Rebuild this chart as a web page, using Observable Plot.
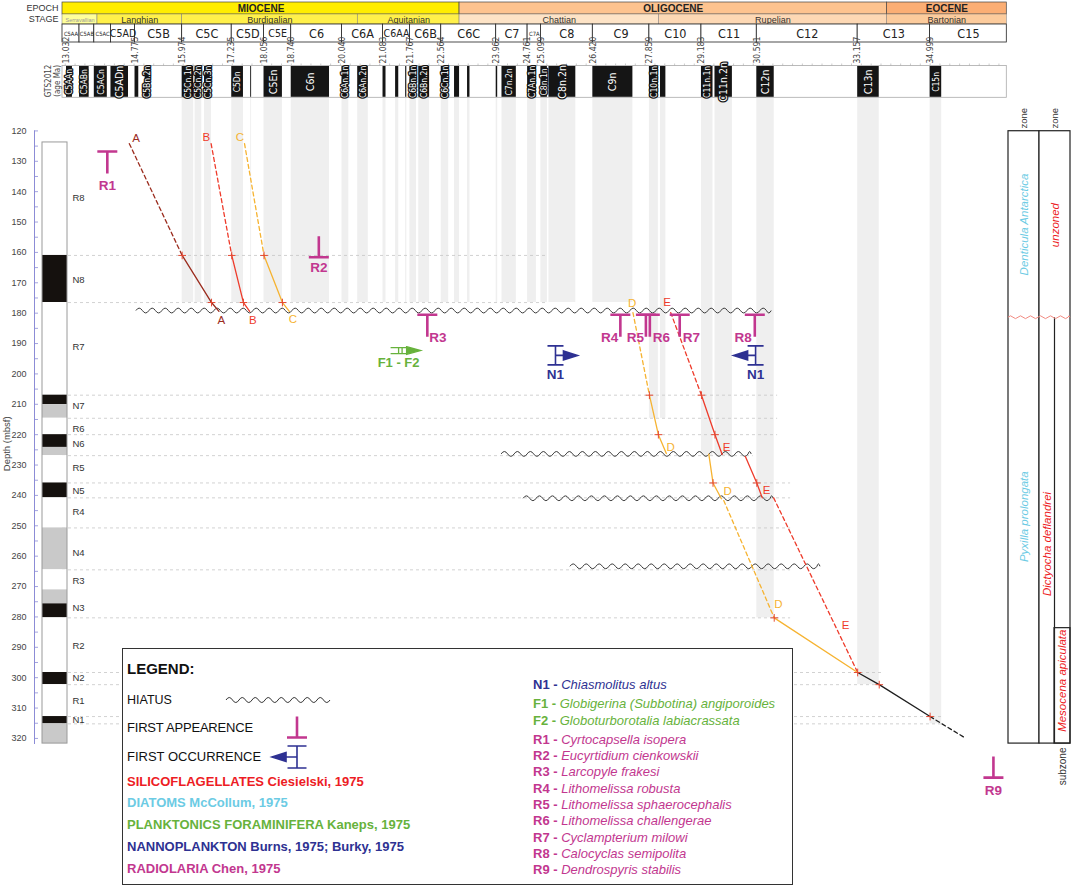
<!DOCTYPE html>
<html><head><meta charset="utf-8">
<script src="https://cdn.jsdelivr.net/npm/d3@7"></script>
<script src="https://cdn.jsdelivr.net/npm/@observablehq/plot@0.6"></script>
<style>
body{margin:0;background:#fff;font-family:"Liberation Sans",Arial,sans-serif;}
#wrap{position:relative;width:1072px;height:889px;overflow:hidden;background:#fff;}
#legend{position:absolute;left:122px;top:648px;width:671px;height:237px;box-sizing:border-box;border:1.5px solid #333;background:#fff;}
#legend .t{position:absolute;white-space:nowrap;transform:translateY(-50%);line-height:1;}
#legend svg{position:absolute;overflow:visible;}
</style></head><body><div id="wrap"></div>
<script>
// ---------------- DATA ----------------
const epochs = [
  {name:"MIOCENE", from:12.93, to:23.03},
  {name:"OLIGOCENE", from:23.03, to:33.9},
  {name:"EOCENE", from:33.9, to:36.95}
];
const stages = [
  {name:"Serravallian", from:12.93, to:13.82},
  {name:"Langhian", from:13.82, to:15.97},
  {name:"Burdigalian", from:15.97, to:20.44},
  {name:"Aquitanian", from:20.44, to:23.03},
  {name:"Chattian", from:23.03, to:28.1},
  {name:"Rupelian", from:28.1, to:33.9},
  {name:"Bartonian", from:33.9, to:36.95}
];
const chrons = [
  {name:"C5AA",from:12.93,to:13.363},{name:"C5AB",from:13.363,to:13.739},{name:"C5AC",from:13.739,to:14.163},
  {name:"C5AD",from:14.163,to:14.775},{name:"C5B",from:14.775,to:15.974},{name:"C5C",from:15.974,to:17.235},
  {name:"C5D",from:17.235,to:18.056},{name:"C5E",from:18.056,to:18.748},{name:"C6",from:18.748,to:20.040},
  {name:"C6A",from:20.040,to:21.083},{name:"C6AA",from:21.083,to:21.767},{name:"C6B",from:21.767,to:22.564},
  {name:"C6C",from:22.564,to:23.962},{name:"C7",from:23.962,to:24.761},{name:"C7A",from:24.761,to:25.099},
  {name:"C8",from:25.099,to:26.420},{name:"C9",from:26.420,to:27.859},{name:"C10",from:27.859,to:29.183},
  {name:"C11",from:29.183,to:30.591},{name:"C12",from:30.591,to:33.157},{name:"C13",from:33.157,to:34.999},
  {name:"C15",from:34.999,to:36.95}
];
const chronAgeLabels = [13.032,14.775,15.974,17.235,18.056,18.748,20.040,21.083,21.767,22.564,23.962,24.761,25.099,26.420,27.859,29.183,30.591,33.157,34.999];
// normal-polarity intervals (GTS2012) and depth down to which their grey band is drawn
const polarity = [
  {name:"C5AAn",from:13.032,to:13.183,band:null},{name:"C5ABn",from:13.363,to:13.608,band:null},
  {name:"C5ACn",from:13.739,to:14.070,band:null},{name:"C5ADn",from:14.163,to:14.609,band:null},
  {name:"",from:14.775,to:14.870,band:null},{name:"C5Bn.2n",from:15.032,to:15.160,band:null},
  {name:"C5Cn.1n",from:15.974,to:16.268,band:176.5},{name:"C5Cn.2n",from:16.303,to:16.472,band:176.5},
  {name:"C5Cn.3n",from:16.543,to:16.721,band:176.5},{name:"C5Dn",from:17.235,to:17.533,band:176.5},
  {name:"",from:17.717,to:17.740,band:176.5},{name:"C5En",from:18.056,to:18.524,band:176.5},
  {name:"C6n",from:18.748,to:19.722,band:176.5},{name:"C6An.1n",from:20.040,to:20.213,band:176.5},
  {name:"C6An.2n",from:20.439,to:20.709,band:176.5},{name:"",from:21.083,to:21.159,band:176.5},
  {name:"",from:21.403,to:21.483,band:176.5},{name:"",from:21.659,to:21.688,band:176.5},
  {name:"C6Bn.1n",from:21.767,to:21.936,band:176.5},{name:"C6Bn.2n",from:21.992,to:22.268,band:176.5},
  {name:"C6Cn.1n",from:22.564,to:22.754,band:176.5},{name:"",from:22.902,to:23.030,band:176.5},
  {name:"",from:23.233,to:23.295,band:176.5},{name:"",from:23.962,to:24.000,band:176.5},
  {name:"C7n.2n",from:24.109,to:24.474,band:176.5},{name:"C7An.1n",from:24.761,to:24.984,band:176.5},
  {name:"C8n.1n",from:25.099,to:25.264,band:176.5},{name:"C8n.2n",from:25.304,to:25.987,band:176.5},
  {name:"C9n",from:26.420,to:27.439,band:176.5},{name:"C10n.1n",from:27.859,to:28.087,band:214.6},
  {name:"",from:28.141,to:28.278,band:214.6},{name:"C11n.1n",from:29.183,to:29.477,band:226.9},
  {name:"C11n.2n",from:29.527,to:29.970,band:226.9},{name:"C12n",from:30.591,to:31.034,band:280.3},
  {name:"C13n",from:33.157,to:33.705,band:302.3},{name:"C15n",from:34.999,to:35.294,band:315.2}
];
// lithology column (depth in mbsf)
const lithology = [
  {top:123.8,bottom:161,kind:"white"},{top:161,bottom:176.5,kind:"black"},{top:176.5,bottom:207,kind:"white"},
  {top:207,bottom:210.1,kind:"black"},{top:210.1,bottom:214.6,kind:"grey"},{top:214.6,bottom:220,kind:"white"},
  {top:220,bottom:224.2,kind:"black"},{top:224.2,bottom:226.9,kind:"grey"},{top:226.9,bottom:235.9,kind:"white"},
  {top:235.9,bottom:240.8,kind:"black"},{top:240.8,bottom:250.7,kind:"white"},{top:250.7,bottom:264.5,kind:"grey"},
  {top:264.5,bottom:271.1,kind:"white"},{top:271.1,bottom:275.7,kind:"grey"},{top:275.7,bottom:280.3,kind:"black"},
  {top:280.3,bottom:298.3,kind:"white"},{top:298.3,bottom:302.3,kind:"black"},{top:302.3,bottom:312.8,kind:"white"},
  {top:312.8,bottom:315.2,kind:"black"},{top:315.2,bottom:321.7,kind:"grey"}
];
const lithoLabels = [
  {name:"R8",depth:142},{name:"N8",depth:169},{name:"R7",depth:191},{name:"N7",depth:210.5},
  {name:"R6",depth:218},{name:"N6",depth:223},{name:"R5",depth:231},{name:"N5",depth:238.5},
  {name:"R4",depth:245.5},{name:"N4",depth:259},{name:"R3",depth:268},{name:"N3",depth:277},
  {name:"R2",depth:289.5},{name:"N2",depth:300},{name:"R1",depth:307.5},{name:"N1",depth:314}
];
const depthGuides = [
  {depth:161,to:25.22},{depth:176.5,to:25.22},{depth:207,to:31.12},{depth:214.6,to:31.12},{depth:220,to:31.12},
  {depth:226.9,to:30.5},{depth:235.9,to:31.45},{depth:240.8,to:31.45},{depth:250.7,to:31.45},{depth:264.5,to:31.45},
  {depth:280.3,to:31.45},{depth:298.3,to:33.82},{depth:302.3,to:33.82},{depth:312.8,to:35.34},{depth:315.2,to:35.34}
];
const hiatuses = [
  {depth:179.3,from:14.81,to:30.97},{depth:226.5,from:24.10,to:30.46},
  {depth:241.1,from:24.66,to:31.02},{depth:263.5,from:25.85,to:32.21}
];
const ageDepthSegments = [
  {seg:"A0",line:"A",dashed:true, ages:[14.63,15.974],depths:[124.2,161]},
  {seg:"A1",line:"A",dashed:false,ages:[15.974,16.721,16.91],depths:[161,176.5,179.4]},
  {seg:"B0",line:"B",dashed:true, ages:[16.71,17.235],depths:[124.2,161]},
  {seg:"B1",line:"B",dashed:false,ages:[17.235,17.533,17.69],depths:[161,176.5,179.4]},
  {seg:"C0",line:"C",dashed:true, ages:[17.56,18.056],depths:[124.2,161]},
  {seg:"C1",line:"C",dashed:false,ages:[18.056,18.524,18.70],depths:[161,176.5,179.4]},
  {seg:"D0",line:"D",dashed:true, ages:[27.44,27.859],depths:[179.8,207]},
  {seg:"D1",line:"D",dashed:false,ages:[27.859,28.087,28.29],depths:[207,220,226.2]},
  {seg:"D2",line:"D",dashed:false,ages:[29.37,29.477,29.69],depths:[226.4,235.9,241.1]},
  {seg:"D3",line:"D",dashed:true, ages:[29.75,31.034],depths:[241.7,280.3]},
  {seg:"D4",line:"D",dashed:false,ages:[31.034,33.157],depths:[280.3,298.3]},
  {seg:"E0",line:"E",dashed:true, ages:[28.40,29.183],depths:[179.8,207]},
  {seg:"E1",line:"E",dashed:false,ages:[29.183,29.527,29.71],depths:[207,220,226.5]},
  {seg:"E2",line:"E",dashed:false,ages:[30.30,30.591,30.73],depths:[227.2,235.9,240.8]},
  {seg:"E3",line:"E",dashed:true, ages:[31.02,33.157],depths:[240.8,298.3]},
  {seg:"K0",line:"K",dashed:false,ages:[33.157,33.705,34.999],depths:[298.3,302.3,312.8]},
  {seg:"K1",line:"K",dashed:true, ages:[34.999,35.86],depths:[312.8,319.6]}
];
const tiePoints = [
  {age:15.974,depth:161},{age:16.721,depth:176.5},{age:17.235,depth:161},{age:17.533,depth:176.5},
  {age:18.056,depth:161},{age:18.524,depth:176.5},{age:27.859,depth:207},{age:28.087,depth:220},
  {age:29.477,depth:235.9},{age:31.034,depth:280.3},{age:29.183,depth:207},{age:29.527,depth:220},
  {age:30.591,depth:235.9},{age:33.157,depth:298.3},{age:33.705,depth:302.3},{age:34.999,depth:312.8}
];
const lineLabels = [
  {line:"A",age:14.80,depth:122.3},{line:"A",age:16.97,depth:182.2},
  {line:"B",age:16.59,depth:122.2},{line:"B",age:17.77,depth:182.2},
  {line:"C",age:17.44,depth:122.2},{line:"C",age:18.79,depth:181.9},
  {line:"D",age:27.42,depth:176.6},{line:"D",age:28.40,depth:224.0},{line:"D",age:29.85,depth:238.5},{line:"D",age:31.14,depth:276.0},
  {line:"E",age:28.31,depth:176.4},{line:"E",age:29.82,depth:224.0},{line:"E",age:30.84,depth:238.2},{line:"E",age:32.85,depth:282.9}
];
const radiolaria = [
  {code:"R1",age:14.07,depth:126.8,kind:"top"},{code:"R2",age:19.45,depth:161.6,kind:"base"},
  {code:"R3",age:22.21,depth:180.5,kind:"top"},{code:"R4",age:27.12,depth:180.5,kind:"top"},
  {code:"R5",age:27.77,depth:180.5,kind:"top"},{code:"R6",age:27.87,depth:180.5,kind:"top"},
  {code:"R7",age:28.63,depth:180.5,kind:"top"},{code:"R8",age:30.54,depth:180.5,kind:"top"},
  {code:"R9",age:36.61,depth:332.9,kind:"base"}
];
const nannoMarkers = [{code:"N1",age:25.47,depth:193.9,dir:"right"},{code:"N1",age:30.56,depth:193.9,dir:"left"}];
const foramMarkers = [{code:"F1 - F2",age:21.53,depth:192.3,dir:"right"}];
const zones = [
  {name:"Denticula Antarctica",col:"diatom",top:120.1,bottom:181.5,labelDepth:150.8,group:"diatom"},
  {name:"Pyxilla prolongata",col:"diatom",top:181.5,bottom:321.7,labelDepth:247,group:"diatom"},
  {name:"unzoned",col:"silico",top:120.1,bottom:181.5,labelDepth:151,group:"silico"},
  {name:"Dictyocha deflandrei",col:"silicoL",top:181.5,bottom:321.7,labelDepth:256,group:"silico"},
  {name:"Mesocena apiculata",col:"silicoR",top:283.7,bottom:321.7,labelDepth:301,group:"silico"}
];
const zoneBoundary = [{depth:181.5}];
const legendSpecies = [
  {code:"N1",name:"Chiasmolitus altus",group:"N"},
  {code:"F1",name:"Globigerina (Subbotina) angiporoides",group:"F"},
  {code:"F2",name:"Globoturborotalia labiacrassata",group:"F"},
  {code:"R1",name:"Cyrtocapsella isopera",group:"R"},
  {code:"R2",name:"Eucyrtidium cienkowskii",group:"R"},
  {code:"R3",name:"Larcopyle frakesi",group:"R"},
  {code:"R4",name:" Lithomelissa robusta",group:"R"},
  {code:"R5",name:"Lithomelissa sphaerocephalis",group:"R"},
  {code:"R6",name:"Lithomelissa challengerae",group:"R"},
  {code:"R7",name:"Cyclampterium milowi",group:"R"},
  {code:"R8",name:"Calocyclas semipolita",group:"R"},
  {code:"R9",name:"Dendrospyris stabilis",group:"R"}
];
const legendSources = [
  {text:"SILICOFLAGELLATES Ciesielski, 1975",group:"S"},
  {text:"DIATOMS McCollum, 1975",group:"D"},
  {text:"PLANKTONICS FORAMINIFERA Kaneps, 1975",group:"F"},
  {text:"NANNOPLANKTON Burns, 1975; Burky, 1975",group:"N"},
  {text:"RADIOLARIA Chen, 1975",group:"R"}
];

// ---------------- STYLE / LAYOUT ----------------
const AGE_DOMAIN = [12.93, 36.95], AGE_RANGE = [62, 1006.3];
const DEPTH_DOMAIN = [109, 322], DEPTH_RANGE = [97, 744];
const SANS = '"Liberation Sans", Arial, sans-serif';
const NARROW = '"Liberation Sans Narrow", "Arial Narrow", "DejaVu Sans Condensed", sans-serif';
const C = {mag:"#c2378f", blue:"#2e3192", green:"#67b23c", red:"#ed1c24", lblue:"#6ccbe4", axis:"#8c8cd6"};
const LINE_COLOR = {A:"#9b2c1e", B:"#ee3b2b", C:"#f6b331", D:"#f6b331", E:"#ee3b2b", K:"#1e1e1e"};
const EPOCH_FILL = {MIOCENE:"#ffed00", OLIGOCENE:"#fdc38f", EOCENE:"#fbae74"};
const STAGE_FILL = {Serravallian:"#ffff9a", Langhian:"#fff04a", Burdigalian:"#fff04a", Aquitanian:"#fff04a",
  Chattian:"#fde3c6", Rupelian:"#fdd8b4", Bartonian:"#fccb9c"};
const LITHO_FILL = {white:"#ffffff", black:"#15110e", grey:"#c9c9c9"};
const ROW = {epoch:[2,14], stage:[14,24], chron:[24,42], ageBase:63, pol:[65.5,97.3]};
const ZCOL = {diatom:[1008,1039], silico:[1039,1070], silicoL:[1039,1054], silicoR:[1054,1070]};
const mid = d => (d.from + d.to) / 2;
const layerStyle = {position:"absolute", left:"0px", top:"0px", background:"transparent", overflow:"visible", fontFamily:SANS, maxWidth:"none"};

function waveMark(data, {x1, x2, y, stroke = "#333", strokeWidth = 1, amp = 2.4, period = 13}) {
  return (index, scales) => {
    const sx = (scales && scales.x) || (v => v), sy = (scales && scales.y) || (v => v);
    const g = d3.create("svg:g");
    for (const d of data) {
      const a = sx(x1(d)), b = sx(x2(d)), yy = sy(y(d));
      let p = `M${a},${yy}`, s = -1;
      for (let x = a; x < b - 0.01; x += period / 2) {
        const xe = Math.min(x + period / 2, b);
        p += `Q${(x + xe) / 2},${yy + s * amp * 2},${xe},${yy}`;
        s = -s;
      }
      g.append("path").attr("d", p).attr("fill", "none").attr("stroke", stroke).attr("stroke-width", strokeWidth);
    }
    return g.node();
  };
}
// marker glyphs (pixel geometry)
const SYM = {
  top: {draw(c){ c.moveTo(-10,0); c.lineTo(10,0); c.moveTo(0,0); c.lineTo(0,22); }},
  base: {draw(c){ c.moveTo(-10,0); c.lineTo(10,0); c.moveTo(0,0); c.lineTo(0,-21); }},
  ibeamRight: {draw(c){ c.moveTo(-8,-9.5); c.lineTo(8,-9.5); c.moveTo(-8,9.5); c.lineTo(8,9.5);
    c.moveTo(0,-9.5); c.lineTo(0,9.5); c.moveTo(0,0); c.lineTo(9,0);
    c.moveTo(8,-4.5); c.lineTo(22,0); c.lineTo(8,4.5); c.closePath(); }},
  ibeamLeft: {draw(c){ c.moveTo(-8,-9.5); c.lineTo(8,-9.5); c.moveTo(-8,9.5); c.lineTo(8,9.5);
    c.moveTo(0,-9.5); c.lineTo(0,9.5); c.moveTo(0,0); c.lineTo(-9,0);
    c.moveTo(-8,-4.5); c.lineTo(-22,0); c.lineTo(-8,4.5); c.closePath(); }},
  foramRight: {draw(c){ c.moveTo(-10,-3); c.lineTo(6,-3); c.moveTo(-10,3); c.lineTo(6,3);
    c.moveTo(-2,-3.5); c.lineTo(-2,3.5); c.moveTo(1.5,-3.5); c.lineTo(1.5,3.5);
    c.moveTo(6,-3.8); c.lineTo(20,0); c.lineTo(6,3.8); c.closePath(); }}
};
const RLABEL = {R1:{dy:34,anchor:"middle",dx:0}, R2:{dy:10,anchor:"middle",dx:0}, R3:{dy:23,anchor:"start",dx:2},
  R4:{dy:23,anchor:"end",dx:-2}, R5:{dy:23,anchor:"end",dx:-2}, R6:{dy:23,anchor:"start",dx:3},
  R7:{dy:23,anchor:"start",dx:3}, R8:{dy:23,anchor:"end",dx:-3}, R9:{dy:13,anchor:"middle",dx:0}};

// ---------------- MAIN (age x depth) ----------------
const segPoints = ageDepthSegments.flatMap(s => s.ages.map((a, i) => ({seg:s.seg, line:s.line, dashed:s.dashed, age:a, depth:s.depths[i]})));
const mainPlot = Plot.plot({
  width:1072, height:889, margin:0,
  x:{domain:AGE_DOMAIN, range:AGE_RANGE, axis:null},
  y:{domain:DEPTH_DOMAIN, range:DEPTH_RANGE, axis:null},
  style:{...layerStyle, background:"white"},
  marks:[
    Plot.rect(polarity.filter(d => d.band != null), {x1:"from", x2:"to", y1:DEPTH_DOMAIN[0], y2:"band", fill:"#efefef"}),
    Plot.ruleY(depthGuides, {y:"depth", x1:AGE_DOMAIN[0], x2:"to", stroke:"#c6c6c6", strokeWidth:0.8, strokeDasharray:"3,3"}),
    waveMark(hiatuses, {x1:d=>d.from, x2:d=>d.to, y:d=>d.depth, stroke:"#3a3a3a", strokeWidth:1}),
    Plot.line(segPoints.filter(d => d.dashed), {x:"age", y:"depth", z:"seg", stroke:d => LINE_COLOR[d.line], strokeWidth:1.3, strokeDasharray:"4,3"}),
    Plot.line(segPoints.filter(d => !d.dashed), {x:"age", y:"depth", z:"seg", stroke:d => LINE_COLOR[d.line], strokeWidth:1.3}),
    Plot.dot(tiePoints, {x:"age", y:"depth", symbol:"plus", r:2.6, stroke:"#e44a34", strokeWidth:1}),
    Plot.text(lineLabels, {x:"age", y:"depth", text:"line", fill:d => LINE_COLOR[d.line], fontSize:11.5, fontFamily:SANS}),
    Plot.dot(radiolaria.filter(d => d.kind === "top"), {x:"age", y:"depth", symbol:SYM.top, fill:"none", stroke:C.mag, strokeWidth:2.6}),
    Plot.dot(radiolaria.filter(d => d.kind === "base"), {x:"age", y:"depth", symbol:SYM.base, fill:"none", stroke:C.mag, strokeWidth:2.6}),
    ...Object.entries(RLABEL).map(([code, o]) => Plot.text(radiolaria.filter(d => d.code === code),
      {x:"age", y:"depth", text:"code", dx:o.dx, dy:o.dy, textAnchor:o.anchor, fill:C.mag, fontWeight:"bold", fontSize:13.5, fontFamily:SANS})),
    Plot.dot(nannoMarkers.filter(d => d.dir === "right"), {x:"age", y:"depth", symbol:SYM.ibeamRight, fill:C.blue, stroke:C.blue, strokeWidth:1.6}),
    Plot.dot(nannoMarkers.filter(d => d.dir === "left"), {x:"age", y:"depth", symbol:SYM.ibeamLeft, fill:C.blue, stroke:C.blue, strokeWidth:1.6}),
    Plot.text(nannoMarkers, {x:"age", y:"depth", text:"code", dy:19, fill:C.blue, fontWeight:"bold", fontSize:13.5, fontFamily:SANS}),
    Plot.dot(foramMarkers, {x:"age", y:"depth", symbol:SYM.foramRight, fill:C.green, stroke:C.green, strokeWidth:1.3}),
    Plot.text(foramMarkers, {x:"age", y:"depth", text:"code", dy:12, dx:-2, fill:C.green, fontWeight:"bold", fontSize:13, fontFamily:SANS})
  ]
});

// ---------------- HEADER (age x, pixel rows) ----------------
const headerPlot = Plot.plot({
  width:1072, height:100, marginLeft:62, marginRight:65.7, marginTop:64, marginBottom:0,
  x:{domain:AGE_DOMAIN, range:AGE_RANGE, axis:null},
  y:{type:"identity", axis:null},
  style:layerStyle,
  marks:[
    Plot.rect(epochs, {x1:"from", x2:"to", y1:ROW.epoch[0], y2:ROW.epoch[1], fill:d => EPOCH_FILL[d.name], stroke:"#444", strokeWidth:0.7}),
    Plot.text(epochs, {x:mid, y:(ROW.epoch[0]+ROW.epoch[1])/2+0.5, text:"name", fontWeight:"bold", fontSize:10, fill:"#222", fontFamily:SANS}),
    Plot.rect(stages, {x1:"from", x2:"to", y1:ROW.stage[0], y2:ROW.stage[1], fill:d => STAGE_FILL[d.name], stroke:"#777", strokeWidth:0.5}),
    Plot.text(stages, {x:mid, y:(ROW.stage[0]+ROW.stage[1])/2+0.5, text:"name", fontSize:d => (d.to - d.from) < 1 ? 5.5 : 9, fill:d => (d.to - d.from) < 1 ? "#999" : "#333", fontFamily:SANS}),
    Plot.rect(chrons, {x1:"from", x2:"to", y1:ROW.chron[0], y2:ROW.chron[1], fill:"white", stroke:"#222", strokeWidth:0.8}),
    Plot.text(chrons, {x:mid, y:(ROW.chron[0]+ROW.chron[1])/2+0.5, text:"name", fontSize:d => (d.to - d.from) < 0.5 ? 5.8 : (d.to - d.from) < 0.7 ? 10.5 : 12.5, fill:"#222", fontFamily:NARROW}),
    Plot.text(["EPOCH","STAGE"], {x:AGE_DOMAIN[0], y:(d,i) => i === 0 ? 7.5 : 19, text:d => d, dx:-4, textAnchor:"end", fontSize:9, fill:"#333", fontFamily:SANS}),
    Plot.text(chronAgeLabels, {x:d => d, y:ROW.ageBase, text:d => d.toFixed(3), rotate:-90, textAnchor:"start", fontSize:8.5, fill:"#444", fontFamily:NARROW}),
    Plot.rect([0], {x1:AGE_DOMAIN[0], x2:AGE_DOMAIN[1], y1:ROW.pol[0], y2:ROW.pol[1], fill:"white", stroke:"#aaa", strokeWidth:0.8}),
    Plot.ruleX(d3.range(13, 36.95, 0.25), {x:d => d, y1:63.5, y2:65.5, stroke:"#aaa", strokeWidth:0.6}),
    Plot.rect(polarity, {x1:"from", x2:"to", y1:ROW.pol[0]+0.5, y2:ROW.pol[1]-0.5, fill:"#151515"}),
    Plot.text(polarity.filter(d => d.name), {x:mid, y:(ROW.pol[0]+ROW.pol[1])/2, text:"name", rotate:-90,
      fontSize:d => (d.to - d.from) > 0.4 ? 10.5 : 8.5, fill:"white", stroke:"#151515", strokeWidth:2.5, paintOrder:"stroke", fontFamily:NARROW}),
    Plot.text(["GTS2012\n(age Ma)"], {x:AGE_DOMAIN[0], y:(ROW.pol[0]+ROW.pol[1])/2-1, text:d => d, dx:-10, rotate:-90, fontSize:8, lineHeight:1.15, fill:"#444", fontFamily:NARROW})
  ]
});

// ---------------- SIDE (pixel x, depth y): lithology, axis, zones ----------------
const sidePlot = Plot.plot({
  width:1072, height:889, marginLeft:34, marginTop:130, marginBottom:145, marginRight:0,
  x:{type:"identity", axis:null},
  y:{domain:DEPTH_DOMAIN, range:DEPTH_RANGE},
  style:layerStyle,
  marks:[
    Plot.ruleX([34], {y1:120, y2:322, stroke:C.axis, strokeWidth:1}),
    Plot.ruleY(d3.range(120, 321, 5), {y:d => d, x1:34, x2:38, stroke:C.axis, strokeWidth:0.8}),
    Plot.axisY(d3.range(120, 321, 10), {anchor:"left", tickSize:0, tickPadding:8, label:null, fontSize:9, fill:"#444", fontFamily:SANS}),
    Plot.text(["Depth (mbsf)"], {x:6, y:223, text:d => d, rotate:-90, fontSize:9.5, fill:"#444", fontFamily:SANS}),
    Plot.rect(lithology, {x1:42, x2:67, y1:"top", y2:"bottom", fill:d => LITHO_FILL[d.kind]}),
    Plot.rect([0], {x1:42, x2:67, y1:lithology[0].top, y2:lithology[lithology.length-1].bottom, fill:"none", stroke:"#9a9a9a", strokeWidth:1}),
    Plot.text(lithoLabels, {x:72, y:"depth", text:"name", textAnchor:"start", fontSize:9.5, fill:"#333", fontFamily:SANS}),
    // zone columns
    Plot.rect(["diatom","silico"], {x1:d => ZCOL[d][0], x2:d => ZCOL[d][1], y1:zones[0].top, y2:zones[1].bottom, fill:"white", stroke:"#222", strokeWidth:1.2}),
    Plot.rect(zones.filter(d => d.col === "silicoR"), {x1:ZCOL.silicoR[0], x2:ZCOL.silicoR[1], y1:"top", y2:"bottom", fill:"none", stroke:"#222", strokeWidth:1.2}),
    Plot.ruleX([ZCOL.silicoR[0]], {y1:zoneBoundary[0].depth, y2:zones[1].bottom, stroke:"#222", strokeWidth:1.2}),
    waveMark(zoneBoundary, {x1:() => ZCOL.diatom[0], x2:() => ZCOL.silico[1], y:d => d.depth, stroke:"#f28b82", strokeWidth:1, amp:1.4, period:10}),
    Plot.text(zones, {x:d => (ZCOL[d.col][0] + ZCOL[d.col][1]) / 2, y:"labelDepth", text:"name", rotate:-90,
      fill:d => d.group === "diatom" ? C.lblue : C.red, fontStyle:"italic", fontSize:11.5, fontFamily:SANS}),
    Plot.text(["diatom","silico"], {x:d => (ZCOL[d][0] + ZCOL[d][1]) / 2, y:119.2, text:() => "zone", rotate:-90, textAnchor:"start", fontSize:9.5, fill:"#333", fontFamily:SANS}),
    Plot.text(["subzone"], {x:(ZCOL.silicoR[0] + ZCOL.silicoR[1]) / 2, y:323, text:d => d, rotate:-90, textAnchor:"end", fontSize:10, fill:"#333", fontFamily:SANS})
  ]
});

// ---------------- LEGEND (HTML) ----------------
const SRC_COLOR = {S:C.red, D:C.lblue, F:C.green, N:C.blue, R:C.mag};
const legend = d3.create("div").attr("id", "legend");
const addT = (html, left, cy, css) => legend.append("div").attr("class", "t")
  .attr("style", `left:${left}px;top:${cy}px;${css}`).html(html);
addT("LEGEND:", 4, 19, "font-weight:bold;font-size:15px;color:#111;");
addT("HIATUS", 4, 51, "font-size:12.5px;color:#111;");
addT("FIRST APPEARENCE", 4, 78, "font-size:13px;color:#111;letter-spacing:-0.2px;");
addT("FIRST OCCURRENCE", 4, 107, "font-size:13px;color:#111;");
legendSources.forEach((s, i) => addT(s.text, 4, 131.5 + i * 21.9, `font-weight:bold;font-size:13px;color:${SRC_COLOR[s.group]};`));
const spY = [35.3, 54.3, 71, 90.3, 106.3, 122.3, 138.7, 154.9, 171.3, 187.7, 204, 220.2];
legendSpecies.forEach((s, i) => addT(`<b>${s.code} -</b> <i>${s.name}</i>`, 410, spY[i], `font-size:13px;color:${SRC_COLOR[s.group]};`));
// legend glyphs
const gsvg = legend.append("svg").attr("width", 671).attr("height", 237).style("left", "0px").style("top", "0px");
(() => {
  let p = "M103,51", s = -1;
  for (let x = 103; x < 203; x += 6.5) { p += `Q${x + 3.25},${51 + s * 5},${x + 6.5},51`; s = -s; }
  gsvg.append("path").attr("d", p).attr("fill", "none").attr("stroke", "#333").attr("stroke-width", 1);
  const ctx1 = d3.path(); SYM.base.draw(ctx1);
  gsvg.append("path").attr("d", ctx1.toString()).attr("transform", "translate(174,88.5)").attr("fill", "none").attr("stroke", C.mag).attr("stroke-width", 2.6);
  const ctx2 = d3.path();
  ctx2.moveTo(-9.5,-11); ctx2.lineTo(9.5,-11); ctx2.moveTo(-9.5,11); ctx2.lineTo(9.5,11); ctx2.moveTo(0,-11); ctx2.lineTo(0,11);
  ctx2.moveTo(0,0); ctx2.lineTo(-12,0); ctx2.moveTo(-11,-4.5); ctx2.lineTo(-25,0); ctx2.lineTo(-11,4.5); ctx2.closePath();
  gsvg.append("path").attr("d", ctx2.toString()).attr("transform", "translate(174,108)").attr("fill", C.blue).attr("stroke", C.blue).attr("stroke-width", 1.6);
})();

const wrap = document.getElementById("wrap");
wrap.append(mainPlot, sidePlot, headerPlot, legend.node());
</script></body></html>
